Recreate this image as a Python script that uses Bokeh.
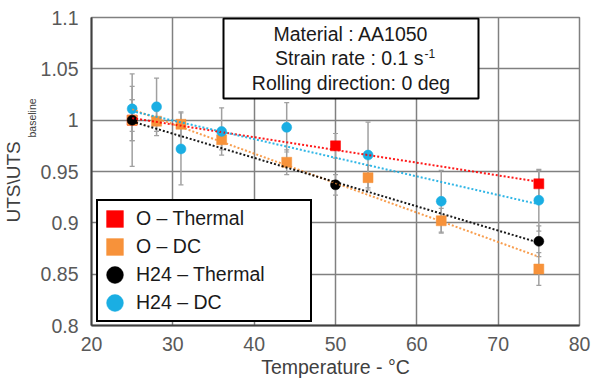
import numpy as np
from bokeh.plotting import figure
from bokeh.models import (ColumnDataSource, Range1d, FixedTicker, Whisker, TeeHead,
                          Legend, LegendItem, Label, BoxAnnotation, Title)
from bokeh.embed import file_html
from bokeh.resources import INLINE

# ---------------- data ----------------
temps_o_thermal = [25, 50, 75]
uts_o_thermal = [1.000, 0.975, 0.938]
err_o_thermal = [0.020, 0.012, 0.013]

temps_o_dc = [25, 28, 31, 36, 44, 54, 63, 75]
uts_o_dc = [1.000, 0.999, 0.996, 0.981, 0.959, 0.944, 0.902, 0.855]
err_o_dc = [0.020, 0.010, 0.012, 0.010, 0.012, 0.012, 0.012, 0.016]

temps_h24_thermal = [25, 50, 75]
uts_h24_thermal = [1.000, 0.937, 0.882]
err_h24_thermal = [0.045, 0.010, 0.015]

temps_h24_dc = [25, 28, 31, 36, 44, 54, 63, 75]
uts_h24_dc = [1.011, 1.013, 0.972, 0.989, 0.993, 0.966, 0.921, 0.922]
err_h24_dc = [0.022, 0.028, 0.035, 0.023, 0.024, 0.032, 0.030, 0.030]

series_names = ["O – Thermal", "O – DC", "H24 – Thermal", "H24 – DC"]
x_ticks = [20, 30, 40, 50, 60, 70, 80]
y_ticks = [0.8, 0.85, 0.9, 0.95, 1.0, 1.05, 1.1]
y_tick_labels = ["0.8", "0.85", "0.9", "0.95", "1", "1.05", "1.1"]
info_lines = ["Material : AA1050", "Strain rate : 0.1 s", "Rolling direction: 0 deg"]
info_sup = "-1"

FONT = "Liberation Sans"

p = figure(width=607, height=382, output_backend="svg", toolbar_location=None,
           x_range=Range1d(20, 80), y_range=Range1d(0.8, 1.1),
           min_border_left=91, min_border_right=28, min_border_top=17, min_border_bottom=57)
p.background_fill_color = "white"
p.border_fill_color = "white"
p.outline_line_color = "#808080"
p.outline_line_width = 1.5

p.xaxis.ticker = FixedTicker(ticks=x_ticks)
p.yaxis.ticker = FixedTicker(ticks=y_ticks)
p.yaxis.major_label_overrides = {t: l for t, l in zip(y_ticks, y_tick_labels)}
for ax in (p.xaxis, p.yaxis):
    ax.major_tick_out = 0
    ax.major_tick_in = 0
    ax.minor_tick_out = 0
    ax.minor_tick_in = 0
    ax.axis_line_color = "#404040"
    ax.axis_line_width = 2
    ax.major_label_text_font = FONT
    ax.major_label_text_font_size = "19.5px"
    ax.major_label_text_color = "#595959"
p.yaxis.major_label_standoff = 13
p.xaxis.major_label_standoff = 11
p.xaxis.axis_label = "Temperature - °C"
p.xaxis.axis_label_text_font = FONT
p.xaxis.axis_label_text_font_size = "19.5px"
p.xaxis.axis_label_text_font_style = "normal"
p.xaxis.axis_label_text_color = "#404040"
p.xaxis.axis_label_standoff = 2

p.xgrid.ticker = FixedTicker(ticks=x_ticks)
p.ygrid.ticker = FixedTicker(ticks=y_ticks)
p.grid.grid_line_color = "#808080"
p.grid.grid_line_width = 1.5

# y-axis title with subscript, as side-panel titles (subscript nearer the axis)
t_sub = Title(text="baseline", align="left", offset=188, standoff=0,
              vertical_align="bottom", text_font=FONT, text_font_size="10.5px",
              text_font_style="normal", text_color="#404040")
p.add_layout(t_sub, "left")
t_main = Title(text="UTS\\UTS", align="left", offset=103, standoff=0,
               vertical_align="bottom", text_font=FONT, text_font_size="19px",
               text_font_style="normal", text_color="#404040")
p.add_layout(t_main, "left")

series = [
    (temps_o_thermal, uts_o_thermal, err_o_thermal, "#FF0000", "square"),
    (temps_o_dc, uts_o_dc, err_o_dc, "#F7923A", "square"),
    (temps_h24_thermal, uts_h24_thermal, err_h24_thermal, "#000000", "circle"),
    (temps_h24_dc, uts_h24_dc, err_h24_dc, "#1AAEE3", "circle"),
]

sources = []
for xs, ys, es, col, mk in series:
    src = ColumnDataSource(dict(x=xs, y=ys,
                                upper=[y + e for y, e in zip(ys, es)],
                                lower=[y - e for y, e in zip(ys, es)]))
    sources.append(src)
    w = Whisker(base="x", upper="upper", lower="lower", source=src,
                line_color="#a0a0a0", line_width=1.5, level="underlay",
                upper_head=TeeHead(size=5, line_color="#a0a0a0", line_width=1.2),
                lower_head=TeeHead(size=5, line_color="#a0a0a0", line_width=1.2))
    p.add_layout(w)

renderers = []
for (xs, ys, es, col, mk), src in zip(series, sources):
    if mk == "square":
        r = p.rect("x", "y", width=10, height=10, width_units="screen", height_units="screen",
                   source=src, fill_color=col, line_color=col, line_width=0.5)
    else:
        r = p.ellipse("x", "y", width=10, height=10, width_units="screen", height_units="screen",
                      source=src, fill_color=col, line_color=col, line_width=0.5)
    renderers.append(r)

# linear trendlines (least-squares fit of each series)
for xs, ys, es, col, mk in series:
    k, b = np.polyfit(xs, ys, 1)
    xl = [min(xs), max(xs)]
    p.line(xl, [k * xv + b for xv in xl], line_color=col, line_width=2,
           line_dash="2 2", line_alpha=0.9)

legend = Legend(items=[LegendItem(label=n, renderers=[r]) for n, r in zip(series_names, renderers)],
                location=(5, 3), orientation="vertical",
                glyph_width=21, glyph_height=21, label_height=20, label_width=168,
                spacing=5, padding=6, margin=0, label_standoff=11,
                label_text_font=FONT, label_text_font_size="19.5px",
                label_text_color="#1a1a1a",
                border_line_color="black", border_line_width=2, border_line_alpha=1,
                background_fill_color="white", background_fill_alpha=1)
p.add_layout(legend)

# info box
box = BoxAnnotation(left=132, right=387, bottom=227, top=307,
                    left_units="screen", right_units="screen",
                    bottom_units="screen", top_units="screen",
                    fill_color="white", fill_alpha=1,
                    line_color="black", line_width=2, line_alpha=1, level="annotation")
p.add_layout(box)

info_y = [292, 267.5, 243]
for i, (txt, yy) in enumerate(zip(info_lines, info_y)):
    if i == 1:
        lab = Label(x=332, y=yy, x_units="screen", y_units="screen", text=txt,
                    text_align="right", text_baseline="middle",
                    text_font=FONT, text_font_size="19.5px", text_color="#1a1a1a")
        p.add_layout(lab)
        sup = Label(x=333, y=yy + 5, x_units="screen", y_units="screen", text=info_sup,
                    text_align="left", text_baseline="middle",
                    text_font=FONT, text_font_size="12px", text_color="#1a1a1a")
        p.add_layout(sup)
    else:
        lab = Label(x=259.5, y=yy, x_units="screen", y_units="screen", text=txt,
                    text_align="center", text_baseline="middle",
                    text_font=FONT, text_font_size="19.5px", text_color="#1a1a1a")
        p.add_layout(lab)

open("out.html", "w").write(file_html(p, INLINE))
